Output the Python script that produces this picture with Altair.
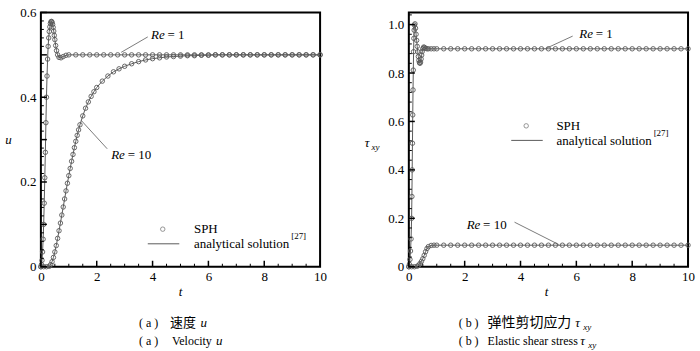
import altair as alt
import pandas as pd

SERIF = "Liberation Serif"
CJK = "Noto Sans CJK SC"
GRAY = "#5a5a5a"
W, H = 280, 255

# ---------------- data ----------------
t_tail = [1.25, 1.5, 1.75, 2.0, 2.25, 2.5, 2.75, 3.0, 3.25, 3.5, 3.75, 4.0, 4.25, 4.5,
          4.75, 5.0, 5.25, 5.5, 5.75, 6.0, 6.25, 6.5, 6.75, 7.0, 7.25, 7.5, 7.75, 8.0,
          8.25, 8.5, 8.75, 9.0, 9.25, 9.5, 9.75, 10.0]

# velocity u, Re = 1
u1_t = [0, 0.02, 0.04, 0.06, 0.08, 0.10, 0.12, 0.14, 0.16, 0.18, 0.20, 0.22, 0.24, 0.26,
        0.28, 0.30, 0.32, 0.34, 0.36, 0.38, 0.40, 0.42, 0.44, 0.46, 0.48, 0.50, 0.53, 0.56,
        0.60, 0.65, 0.72, 0.80, 0.90, 1.0] + t_tail
u1_v = [0, 0.005, 0.015, 0.035, 0.065, 0.10, 0.15, 0.21, 0.27, 0.34, 0.40, 0.45, 0.49, 0.52,
        0.54, 0.555, 0.566, 0.574, 0.578, 0.579, 0.577, 0.572, 0.565, 0.556, 0.546, 0.536,
        0.522, 0.51, 0.50, 0.494, 0.493, 0.496, 0.499, 0.5,
        0.5, 0.5, 0.5, 0.5, 0.5, 0.5, 0.5, 0.5, 0.5, 0.5, 0.5, 0.5, 0.5, 0.5, 0.5, 0.5, 0.5, 0.5,
        0.5, 0.5, 0.5, 0.5, 0.5, 0.5, 0.5, 0.5, 0.5, 0.5, 0.5, 0.5, 0.5, 0.5, 0.5, 0.5, 0.5, 0.5]

# velocity u, Re = 10
u10_t = [0, 0.1, 0.2, 0.3, 0.35, 0.40, 0.45, 0.50, 0.55, 0.60, 0.65, 0.70, 0.75, 0.80, 0.85,
         0.90, 0.95, 1.00, 1.05, 1.10, 1.15, 1.20, 1.25, 1.30, 1.35, 1.40, 1.5, 1.6, 1.7, 1.8,
         1.9, 2.0, 2.2, 2.4, 2.6, 2.8, 3.0, 3.25, 3.5, 3.75, 4.0, 4.25, 4.5, 4.75, 5.0, 5.25,
         5.5, 5.75, 6.0, 6.25, 6.5, 6.75, 7.0, 7.25, 7.5, 7.75, 8.0, 8.25, 8.5, 8.75, 9.0,
         9.25, 9.5, 9.75, 10.0]
u10_v = [0, 0, 0, 0.001, 0.005, 0.012, 0.022, 0.035, 0.05, 0.067, 0.085, 0.103, 0.122, 0.141,
         0.16, 0.179, 0.197, 0.215, 0.232, 0.249, 0.265, 0.281, 0.296, 0.31, 0.323, 0.335,
         0.356, 0.374, 0.389, 0.402, 0.413, 0.423, 0.438, 0.45, 0.46, 0.467, 0.473, 0.479,
         0.484, 0.488, 0.491, 0.493, 0.495, 0.496, 0.497, 0.498, 0.498, 0.499, 0.499, 0.5,
         0.5, 0.5, 0.5, 0.5, 0.5, 0.5, 0.5, 0.5, 0.5, 0.5, 0.5, 0.5, 0.5, 0.5, 0.5]

# shear stress tau_xy, Re = 1
s1_t = [0, 0.02, 0.04, 0.06, 0.08, 0.10, 0.11, 0.12, 0.13, 0.14, 0.15, 0.16, 0.17, 0.18, 0.19,
        0.20, 0.22, 0.24, 0.26, 0.28, 0.30, 0.32, 0.34, 0.36, 0.38, 0.40, 0.42, 0.44, 0.46,
        0.48, 0.50, 0.53, 0.56, 0.60, 0.65, 0.70, 0.80, 0.90, 1.0] + t_tail
s1_v = [0, 0.01, 0.03, 0.065, 0.115, 0.2, 0.29, 0.40, 0.51, 0.627, 0.73, 0.812, 0.888, 0.943,
        0.977, 0.998, 1.003, 0.985, 0.96, 0.935, 0.91, 0.888, 0.868, 0.852, 0.843, 0.84,
        0.845, 0.858, 0.874, 0.889, 0.9, 0.907, 0.906, 0.902, 0.9, 0.9, 0.9, 0.9, 0.9,
        0.9, 0.9, 0.9, 0.9, 0.9, 0.9, 0.9, 0.9, 0.9, 0.9, 0.9, 0.9, 0.9, 0.9, 0.9, 0.9, 0.9, 0.9,
        0.9, 0.9, 0.9, 0.9, 0.9, 0.9, 0.9, 0.9, 0.9, 0.9, 0.9, 0.9, 0.9, 0.9, 0.9, 0.9, 0.9, 0.9]

# shear stress tau_xy, Re = 10
s10_t = [0, 0.1, 0.2, 0.3, 0.35, 0.4, 0.45, 0.5, 0.55, 0.6, 0.65, 0.7, 0.8, 0.9, 1.0] + t_tail
s10_v = [0, 0, 0, 0.002, 0.006, 0.013, 0.022, 0.033, 0.047, 0.062, 0.075, 0.083, 0.088, 0.089,
         0.089,
         0.089, 0.089, 0.089, 0.089, 0.089, 0.089, 0.089, 0.089, 0.089, 0.089, 0.089, 0.089,
         0.089, 0.089, 0.089, 0.089, 0.089, 0.089, 0.089, 0.089, 0.089, 0.089, 0.089, 0.089,
         0.089, 0.089, 0.089, 0.089, 0.089, 0.089, 0.089, 0.089, 0.089, 0.089, 0.089, 0.089]

x_labels = [0, 2, 4, 6, 8, 10]
u_labels = [0, 0.2, 0.4, 0.6]
s_labels = [0, 0.2, 0.4, 0.6, 0.8, 1.0]

# ---------------- helpers ----------------
DUMMY = pd.DataFrame({"a": [0]})


def txt(s, x, y, size=13, style="normal", font=SERIF, align="left"):
    return alt.Chart(DUMMY).mark_text(
        text=s, font=font, fontSize=size, fontStyle=style, align=align,
        baseline="middle", color="black"
    ).encode(x=alt.value(x), y=alt.value(y))


def seg(x1, y1, x2, y2, color=GRAY, w=0.8):
    return alt.Chart(DUMMY).mark_rule(color=color, strokeWidth=w).encode(
        x=alt.value(x1), y=alt.value(y1), x2=alt.value(x2), y2=alt.value(y2))


def frange(a, b, step):
    out, k = [], 0
    while a + k * step <= b + 1e-9:
        out.append(round(a + k * step, 4))
        k += 1
    return out


def panel(series, ymax, ylabels, ymajor, yminor, extras):
    df = pd.concat([pd.DataFrame({"t": t, "v": v, "series": n}) for n, t, v in series])
    X = alt.X("t:Q", scale=alt.Scale(domain=[0, 10], nice=False, zero=False),
              axis=alt.Axis(values=x_labels, format="d", ticks=False, domain=False,
                            grid=False, labelFont=SERIF, labelFontSize=13,
                            labelColor="black", labelPadding=4, title=None,
                            labelFlush=False, labelOverlap=False))
    Y = alt.Y("v:Q", scale=alt.Scale(domain=[0, ymax], nice=False, zero=False),
              axis=alt.Axis(values=ylabels,
                            labelExpr="datum.value == 0 ? '0' : format(datum.value, '.1f')",
                            ticks=False, domain=False, grid=False, labelFont=SERIF,
                            labelFontSize=13, labelColor="black", labelPadding=5,
                            title=None, labelFlush=False, labelOverlap=False))
    base = alt.Chart(df)
    line = base.mark_line(color=GRAY, strokeWidth=1).encode(x=X, y=Y, detail="series:N")
    pts = base.mark_point(shape="circle", filled=False, size=20, color=GRAY,
                          strokeWidth=0.9, opacity=1).encode(x=X, y=Y, detail="series:N")

    xmaj = alt.Chart(pd.DataFrame({"t": x_labels})).mark_rule(
        color="black", strokeWidth=1.5).encode(x=X, y=alt.value(H), y2=alt.value(H - 6))
    xmin = alt.Chart(pd.DataFrame({"t": [v for v in frange(0, 10, 0.5) if v not in x_labels]})).mark_rule(
        color="black", strokeWidth=1).encode(x=X, y=alt.value(H), y2=alt.value(H - 3))
    ymj = alt.Chart(pd.DataFrame({"v": ymajor})).mark_rule(
        color="black", strokeWidth=1.5).encode(y=Y, x=alt.value(0), x2=alt.value(6))
    ymn = alt.Chart(pd.DataFrame({"v": yminor})).mark_rule(
        color="black", strokeWidth=1).encode(y=Y, x=alt.value(0), x2=alt.value(3))

    return alt.layer(line, pts, xmaj, xmin, ymj, ymn, *extras).properties(width=W, height=H)


# ---------------- left panel: velocity ----------------
u_major = frange(0, 0.6, 0.1)
u_minor = [v for v in frange(0, 0.6, 0.02) if all(abs(v - m) > 1e-6 for m in u_major)]

left_extras = [
    seg(-39.5, -10, -39.5, -9.5, color="white", w=0.1),
    # annotations
    seg(80.5, 40, 107.2, 24.5), txt("Re", 110.5, 23, style="italic"), txt("= 1", 127, 23),
    seg(40.5, 108.3, 66.5, 136.7), txt("Re", 70.5, 142.7, style="italic"), txt("= 10", 87, 142.7),
    # legend
    alt.Chart(DUMMY).mark_point(shape="circle", filled=False, size=20, color=GRAY,
                                strokeWidth=0.9).encode(x=alt.value(122.2), y=alt.value(217.3)),
    txt("SPH", 153.5, 217.3),
    seg(107.2, 232, 138.8, 232, w=1),
    txt("analytical solution", 153.5, 232),
    txt("[27]", 251, 224, size=9),
    # axis titles
    txt("u", -32.5, 128, style="italic", align="center"),
    txt("t", 140, 280, style="italic", align="center"),
    # captions
    txt("( a )", 98.5, 311, size=12), txt("速度", 129.5, 311, size=13, font=CJK),
    txt("u", 160, 311, size=13, style="italic"),
    txt("( a )", 98.5, 329, size=12), txt("Velocity", 131.5, 329, size=12),
    txt("u", 175.5, 329, size=13, style="italic"),
]

left = panel([("Re1", u1_t, u1_v), ("Re10", u10_t, u10_v)], 0.6, u_labels,
             u_major, u_minor, left_extras)

# ---------------- right panel: shear stress ----------------
s_major = frange(0, 1.0, 0.2)
s_minor = [v for v in frange(0, 1.04, 0.04) if all(abs(v - m) > 1e-6 for m in s_major)]

right_extras = [
    seg(137.7, 36, 164.3, 23.7), txt("Re", 171, 22, style="italic"), txt("= 1", 187.5, 22),
    seg(106, 210.3, 150.3, 232.7), txt("Re", 58, 212.7, style="italic"), txt("= 10", 74.5, 212.7),
    alt.Chart(DUMMY).mark_point(shape="circle", filled=False, size=20, color=GRAY,
                                strokeWidth=0.9).encode(x=alt.value(117.7), y=alt.value(113.7)),
    txt("SPH", 148, 114),
    seg(102.7, 128.3, 134.3, 128.3, w=1),
    txt("analytical solution", 148, 128.5),
    txt("[27]", 245.5, 120.5, size=9),
    txt("τ", -42, 131, style="italic", align="center"),
    txt("xy", -37.5, 135, size=9, style="italic"),
    txt("t", 138, 280, style="italic", align="center"),
    txt("( b )", 50, 311, size=12), txt("弹性剪切应力", 79, 311, size=14, font=CJK),
    txt("τ", 167, 311, size=13, style="italic"), txt("xy", 175, 315, size=9, style="italic"),
    txt("( b )", 50, 329, size=12), txt("Elastic shear stress", 79, 329, size=12),
    txt("τ", 172, 329, size=13, style="italic"), txt("xy", 180, 333, size=9, style="italic"),
]

right = panel([("Re1", s1_t, s1_v), ("Re10", s10_t, s10_v)], 1.05, s_labels,
              s_major, s_minor, right_extras)

chart = alt.hconcat(left, right, spacing=89, bounds="flush").properties(
    padding={"left": 0, "top": 0, "right": 4, "bottom": 4}
).configure_view(stroke="black", strokeWidth=2)

chart.save("out.html", embed_options={"renderer": "svg", "actions": False})
